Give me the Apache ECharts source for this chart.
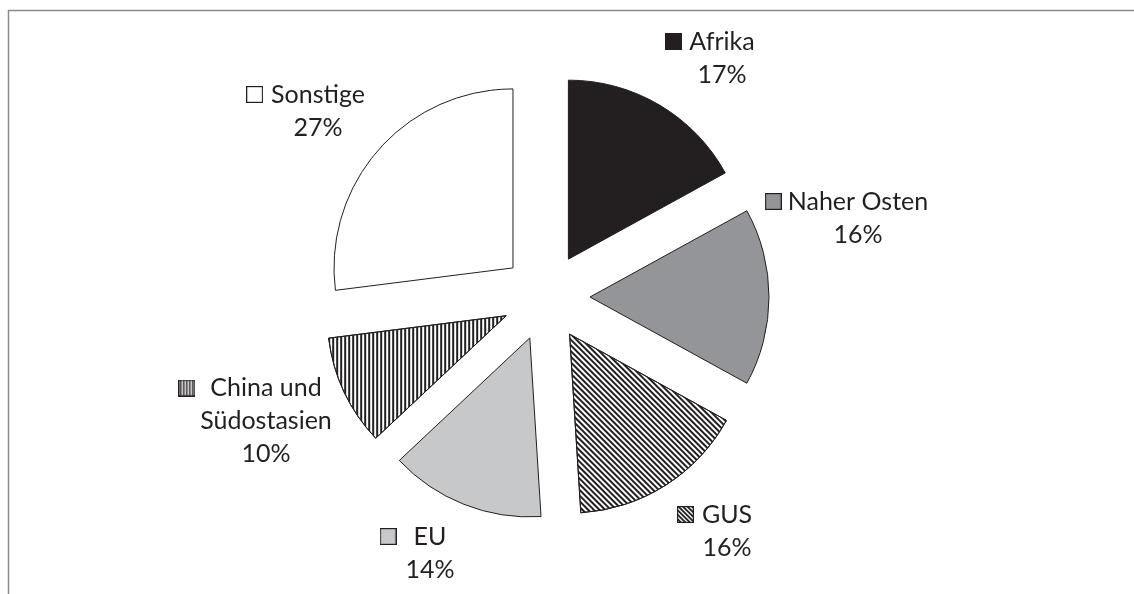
<!DOCTYPE html>
<html>
<head>
<meta charset="utf-8">
<script src="https://cdn.jsdelivr.net/npm/echarts@6/dist/echarts.min.js"></script>
<style>
  html, body { margin: 0; padding: 0; background: #ffffff; }
  #chart { width: 1134px; height: 594px; }
</style>
</head>
<body>
<div id="chart"></div>
<script>
// ---- data ----
const categories = ['Afrika', 'Naher Osten', 'GUS', 'EU', 'China und\nSüdostasien', 'Sonstige'];
const shares = [17, 16, 16, 14, 10, 27];

// ---- styling / layout (not data) ----
const INK = '#231f20';
const fills = ['#231f20', '#939598', '#ffffff', '#c7c8ca', '#ffffff', '#ffffff'];
const patterns = [null, null, 'diag', null, 'vert', null];
const keyGap = [7, 6, 8, 17, 15, 8];
const labelCenters = [[722, 58], [858, 218], [727, 531], [430, 553], [266, 421], [318, 111]];
const KEY = 17;
const LINE_H = 33;

function makeKey(fill, pattern) {
  const c = document.createElement('canvas');
  c.width = KEY; c.height = KEY;
  const g = c.getContext('2d');
  g.fillStyle = fill; g.fillRect(0, 0, KEY, KEY);
  g.strokeStyle = INK; g.lineWidth = 1.5;
  if (pattern === 'vert') {
    for (let x = 2; x < KEY; x += 3) { g.beginPath(); g.moveTo(x + 0.5, 0); g.lineTo(x + 0.5, KEY); g.stroke(); }
  } else if (pattern === 'diag') {
    g.lineWidth = 1.8;
    for (let k = -KEY; k < KEY * 2; k += 4.5) { g.beginPath(); g.moveTo(k, 0); g.lineTo(k + KEY, KEY); g.stroke(); }
  }
  g.lineWidth = 1.2; g.strokeStyle = INK;
  g.strokeRect(0.6, 0.6, KEY - 1.2, KEY - 1.2);
  return c;
}

const decals = {
  diag: { symbol: 'rect', symbolSize: 1, dashArrayX: [2, 2], dashArrayY: [1, 0], rotation: -Math.PI / 4, color: INK },
  vert: { symbol: 'rect', symbolSize: 1, dashArrayX: [2, 2], dashArrayY: [1, 0], rotation: 0, color: INK }
};

const pieData = categories.map((name, i) => {
  const item = {
    name: name,
    value: shares[i],
    selected: true,
    itemStyle: { color: fills[i], borderColor: INK, borderWidth: 1 }
  };
  if (patterns[i]) item.itemStyle.decal = decals[patterns[i]];
  return item;
});

// data labels (key square + name + share), built from the data arrays
const labelGraphics = categories.map((name, i) => {
  const rich = {
    t: { fontSize: 25, fontFamily: 'Lato', fill: INK, lineHeight: LINE_H, verticalAlign: 'middle' },
    k: { width: KEY, height: KEY, backgroundColor: { image: makeKey(fills[i], patterns[i]) }, verticalAlign: 'middle', lineHeight: LINE_H },
    g: { width: keyGap[i], height: 1, lineHeight: LINE_H },
    p: { width: KEY + keyGap[i], height: 1, lineHeight: LINE_H }
  };
  const lines = name.split('\n');
  let s = '{k|}{g|}{t|' + lines[0] + '}{p|}';
  for (let j = 1; j < lines.length; j++) s += '\n{t|' + lines[j] + '}';
  s += '\n{t|' + shares[i] + '%}';
  return {
    type: 'text',
    silent: true,
    x: labelCenters[i][0],
    y: labelCenters[i][1],
    style: {
      text: s,
      rich: rich,
      fontSize: 25,
      fontFamily: 'Lato',
      fill: INK,
      align: 'center',
      verticalAlign: 'middle'
    }
  };
});

const chart = echarts.init(document.getElementById('chart'), null, { renderer: 'canvas', devicePixelRatio: 1 });
chart.setOption({
  animation: false,
  backgroundColor: '#ffffff',
  graphic: [{
    type: 'polyline',
    silent: true,
    shape: { points: [[8.5, 594], [8.5, 10.5], [1134, 10.5]] },
    style: { stroke: '#8a8a8a', lineWidth: 1.5, fill: null }
  }].concat(labelGraphics),
  series: [{
    type: 'pie',
    center: [546, 297],
    radius: 179,
    startAngle: 90,
    clockwise: true,
    selectedMode: 'multiple',
    selectedOffset: 44,
    avoidLabelOverlap: false,
    emphasis: { disabled: true },
    label: { show: false },
    labelLine: { show: false },
    data: pieData
  }]
});
</script>
</body>
</html>
